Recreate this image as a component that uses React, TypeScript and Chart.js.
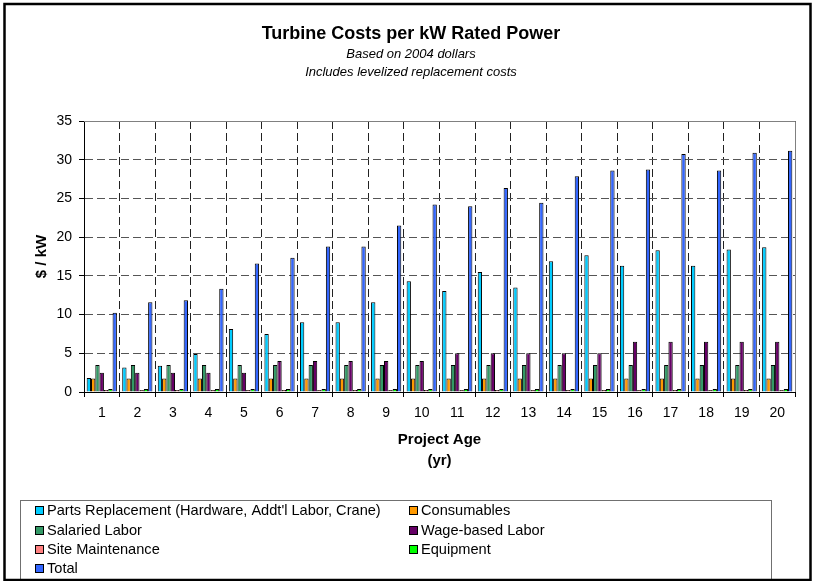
import React, { useEffect, useRef } from 'react';
import { Chart, registerables } from 'chart.js';

Chart.register(...registerables);

const FONT = "'Liberation Sans', Arial, Helvetica, sans-serif";

const TITLE = 'Turbine Costs per kW Rated Power';
const SUBTITLES = ['Based on 2004 dollars', 'Includes levelized replacement costs'];
const X_TITLE = ['Project Age', '(yr)'];
const Y_TITLE = '$ / kW';

const years = ['1', '2', '3', '4', '5', '6', '7', '8', '9', '10', '11', '12', '13', '14', '15', '16', '17', '18', '19', '20'];

const seriesLabels = [
  "Parts Replacement (Hardware, Addt'l Labor, Crane)",
  'Consumables',
  'Salaried Labor',
  'Wage-based Labor',
  'Site Maintenance',
  'Equipment',
  'Total',
];

const partsReplacement = [1.8, 3.15, 3.4, 4.9, 8.15, 7.5, 9.0, 9.0, 11.6, 14.3, 13.05, 15.5, 13.5, 16.9, 17.65, 16.3, 18.3, 16.3, 18.4, 18.7];
const consumables = [1.75, 1.75, 1.75, 1.75, 1.75, 1.75, 1.75, 1.75, 1.75, 1.75, 1.75, 1.75, 1.75, 1.75, 1.75, 1.75, 1.75, 1.75, 1.75, 1.75];
const salariedLabor = [3.5, 3.5, 3.5, 3.5, 3.5, 3.5, 3.5, 3.5, 3.5, 3.5, 3.5, 3.5, 3.5, 3.5, 3.5, 3.5, 3.5, 3.5, 3.5, 3.5];
const wageBasedLabor = [2.5, 2.5, 2.5, 2.5, 2.5, 4.0, 4.0, 4.0, 4.0, 4.0, 5.0, 5.0, 5.0, 5.0, 5.0, 6.5, 6.5, 6.5, 6.5, 6.5];
const siteMaintenance = [0.25, 0.25, 0.25, 0.25, 0.25, 0.25, 0.25, 0.25, 0.25, 0.25, 0.25, 0.25, 0.25, 0.25, 0.25, 0.25, 0.25, 0.25, 0.25, 0.25];
const equipment = [0.4, 0.4, 0.4, 0.4, 0.4, 0.4, 0.4, 0.4, 0.4, 0.4, 0.4, 0.4, 0.4, 0.4, 0.4, 0.4, 0.4, 0.4, 0.4, 0.4];
const total = [10.25, 11.6, 11.85, 13.35, 16.6, 17.35, 18.8, 18.8, 21.5, 24.2, 24.0, 26.35, 24.45, 27.85, 28.6, 28.75, 30.75, 28.6, 30.9, 31.15];

const seriesColors = ['#00CCFF', '#FF9900', '#339966', '#660066', '#FF8080', '#00FF00', '#3366FF'];

const yTicks = [0, 5, 10, 15, 20, 25, 30, 35];

const decorPlugin = {
  id: 'decor',
  afterDraw(chart: any) {
    const ctx = chart.ctx as CanvasRenderingContext2D;
    const a = chart.chartArea;
    ctx.save();
    // titles
    ctx.fillStyle = '#000';
    ctx.textAlign = 'center';
    ctx.textBaseline = 'middle';
    ctx.font = `bold 18px ${FONT}`;
    ctx.fillText(TITLE, 411, 34);
    ctx.font = `italic 13px ${FONT}`;
    ctx.fillText(SUBTITLES[0], 411, 54.5);
    ctx.fillText(SUBTITLES[1], 411, 72.5);

    // plot frame (top/right)
    ctx.strokeStyle = '#808080';
    ctx.lineWidth = 1;
    ctx.setLineDash([]);
    ctx.beginPath();
    ctx.moveTo(a.left, Math.round(a.top) + 0.5);
    ctx.lineTo(Math.round(a.right) + 0.5, Math.round(a.top) + 0.5);
    ctx.lineTo(Math.round(a.right) + 0.5, a.bottom);
    ctx.stroke();

    // legend box
    ctx.strokeStyle = '#707070';
    ctx.lineWidth = 1;
    ctx.strokeRect(20.5, 500.5, 751, 79);
    const datasets = chart.data.datasets;
    const colX = [35, 409];
    const rowY = [510.7, 530.1, 549.5, 568.9];
    ctx.font = `14.6px ${FONT}`;
    ctx.textAlign = 'left';
    ctx.textBaseline = 'middle';
    datasets.forEach((ds: any, i: number) => {
      const col = i % 2;
      const row = Math.floor(i / 2);
      const x = colX[col];
      const y = rowY[row];
      ctx.fillStyle = ds.backgroundColor;
      ctx.fillRect(x, Math.round(y - 4.5), 9, 9);
      ctx.strokeStyle = '#000';
      ctx.strokeRect(x + 0.5, Math.round(y - 4.5) + 0.5, 8, 8);
      ctx.fillStyle = '#000';
      ctx.fillText(ds.label, x + 12, y + 0.5);
    });

    // outer chart frame
    ctx.strokeStyle = '#000';
    ctx.lineWidth = 2.5;
    ctx.strokeRect(4.5, 4, 806, 576);
    ctx.restore();
  },
};

export default function App() {
  const canvasRef = useRef<HTMLCanvasElement | null>(null);

  useEffect(() => {
    if (!canvasRef.current) return;
    Chart.defaults.font.family = FONT;
    Chart.defaults.color = '#000';
    const seriesData = [partsReplacement, consumables, salariedLabor, wageBasedLabor, siteMaintenance, equipment, total];
    const chart = new Chart(canvasRef.current, {
      type: 'bar',
      data: {
        labels: years,
        datasets: seriesData.map((d, i) => ({
          label: seriesLabels[i],
          data: d,
          backgroundColor: seriesColors[i],
          borderColor: '#000',
          borderWidth: 1,
          categoryPercentage: 0.85,
          barPercentage: 1.0,
        })),
      },
      options: {
        responsive: false,
        animation: false,
        devicePixelRatio: 1,
        layout: { padding: { left: 0, top: 121, right: 20, bottom: 109.5 } },
        plugins: {
          legend: { display: false },
          tooltip: { enabled: false },
          title: { display: false },
        },
        scales: {
          x: {
            offset: true,
            grid: {
              display: true,
              offset: true,
              color: '#222',
              lineWidth: 1,
              tickLength: 5,
              tickColor: '#000',
              tickBorderDash: [],
            },
            border: { display: true, color: '#000', width: 1, dash: [8, 4] },
            ticks: { padding: 8, font: { size: 14 }, color: '#000', maxRotation: 0, autoSkip: false },
            title: {
              display: true,
              text: X_TITLE,
              font: { size: 15, weight: 'bold', lineHeight: '21px' },
              padding: { top: 0, bottom: 0 },
              color: '#000',
            },
            afterFit: (scale: any) => {
              scale.height = 79.5;
            },
          },
          y: {
            min: 0,
            max: 35,
            grid: {
              color: '#555',
              lineWidth: 1,
              tickLength: 5,
              tickColor: '#000',
              tickBorderDash: [],
            },
            border: { display: true, color: '#000', width: 1, dash: [8, 4] },
            afterBuildTicks: (scale: any) => {
              scale.ticks = yTicks.map((v) => ({ value: v }));
            },
            ticks: { padding: 7, font: { size: 14 }, color: '#000' },
            title: {
              display: true,
              text: Y_TITLE,
              font: { size: 15, weight: 'bold' },
              padding: { top: 33, bottom: 0 },
              color: '#000',
            },
            afterFit: (scale: any) => {
              scale.width = 84;
            },
          },
        },
      },
      plugins: [decorPlugin],
    } as any);
    return () => chart.destroy();
  }, []);

  return (
    <div style={{ position: 'absolute', left: 0, top: 0, width: 815, height: 581, background: '#fff' }}>
      <canvas ref={canvasRef} width={815} height={581} style={{ display: 'block' }} />
    </div>
  );
}
